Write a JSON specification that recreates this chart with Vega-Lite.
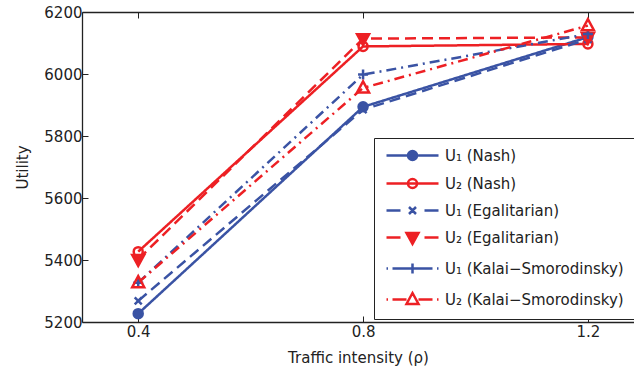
{
  "$schema": "https://vega.github.io/schema/vega-lite/v6.json",
  "autosize": {"type": "none"},
  "padding": {"left": 82, "top": 12, "right": 0, "bottom": 51},
  "width": 552,
  "height": 310,
  "background": "white",
  "config": {
    "font": "DejaVu Sans",
    "view": {"stroke": null},
    "axis": {
      "domainColor": "#222",
      "domainWidth": 1.3,
      "tickColor": "#222",
      "tickWidth": 1,
      "tickSize": -6,
      "grid": false,
      "labelFont": "DejaVu Sans",
      "labelFontSize": 15,
      "labelColor": "#222",
      "titleFont": "DejaVu Sans",
      "titleFontSize": 15,
      "titleFontWeight": "normal",
      "titleColor": "#222"
    }
  },
  "data": {
    "values": [
      {"x": 0.4, "y": 5227, "series": "U₁ (Nash)"},
      {"x": 0.8, "y": 5894, "series": "U₁ (Nash)"},
      {"x": 1.2, "y": 6119, "series": "U₁ (Nash)"},
      {"x": 0.4, "y": 5427, "series": "U₂ (Nash)"},
      {"x": 0.8, "y": 6089, "series": "U₂ (Nash)"},
      {"x": 1.2, "y": 6097, "series": "U₂ (Nash)"},
      {"x": 0.4, "y": 5268, "series": "U₁ (Egalitarian)"},
      {"x": 0.8, "y": 5885, "series": "U₁ (Egalitarian)"},
      {"x": 1.2, "y": 6112, "series": "U₁ (Egalitarian)"},
      {"x": 0.4, "y": 5402, "series": "U₂ (Egalitarian)"},
      {"x": 0.8, "y": 6114, "series": "U₂ (Egalitarian)"},
      {"x": 1.2, "y": 6118, "series": "U₂ (Egalitarian)"},
      {"x": 0.4, "y": 5327, "series": "U₁ (Kalai−Smorodinsky)"},
      {"x": 0.8, "y": 5998, "series": "U₁ (Kalai−Smorodinsky)"},
      {"x": 1.2, "y": 6129, "series": "U₁ (Kalai−Smorodinsky)"},
      {"x": 0.4, "y": 5327, "series": "U₂ (Kalai−Smorodinsky)"},
      {"x": 0.8, "y": 5955, "series": "U₂ (Kalai−Smorodinsky)"},
      {"x": 1.2, "y": 6156, "series": "U₂ (Kalai−Smorodinsky)"}
    ]
  },
  "resolve": {
    "axis": {"x": "independent"},
    "scale": {"shape": "independent", "color": "independent", "fill": "independent"}
  },
  "layer": [
    {
      "mark": {"type": "line", "strokeWidth": 2.5, "clip": true},
      "encoding": {
        "x": {
          "field": "x", "type": "quantitative",
          "scale": {"domain": [0.3, 1.282], "nice": false, "zero": false},
          "axis": {"values": [0.4, 0.8, 1.2], "format": ".1f", "labelPadding": 8, "title": "Traffic intensity (ρ)", "titlePadding": 11}
        },
        "y": {
          "field": "y", "type": "quantitative",
          "scale": {"domain": [5200, 6200], "nice": false, "zero": false},
          "axis": {"values": [5200, 5400, 5600, 5800, 6000, 6200], "format": "d", "labelPadding": 6, "title": "Utility", "titlePadding": 13}
        },
        "color": {
          "field": "series", "type": "nominal",
          "scale": {
            "domain": ["U₁ (Nash)", "U₂ (Nash)", "U₁ (Egalitarian)", "U₂ (Egalitarian)", "U₁ (Kalai−Smorodinsky)", "U₂ (Kalai−Smorodinsky)"],
            "range": ["#3a53a4", "#ed2024", "#3a53a4", "#ed2024", "#3a53a4", "#ed2024"]
          },
          "legend": null
        },
        "strokeDash": {
          "field": "series", "type": "nominal",
          "scale": {
            "domain": ["U₁ (Nash)", "U₂ (Nash)", "U₁ (Egalitarian)", "U₂ (Egalitarian)", "U₁ (Kalai−Smorodinsky)", "U₂ (Kalai−Smorodinsky)"],
            "range": [[1, 0], [1, 0], [11, 6], [11, 6], [10, 5, 2, 5], [10, 5, 2, 5]]
          },
          "legend": null
        }
      }
    },
    {
      "mark": {"type": "point", "strokeWidth": 2.5, "size": 100, "opacity": 1, "fillOpacity": 1, "clip": true},
      "encoding": {
        "x": {
          "field": "x", "type": "quantitative",
          "axis": {"orient": "top", "values": [0.4, 0.8, 1.2], "labels": false, "title": null}
        },
        "y": {"field": "y", "type": "quantitative"},
        "color": {
          "field": "series", "type": "nominal",
          "scale": {
            "domain": ["U₁ (Nash)", "U₂ (Nash)", "U₁ (Egalitarian)", "U₂ (Egalitarian)", "U₁ (Kalai−Smorodinsky)", "U₂ (Kalai−Smorodinsky)"],
            "range": ["#3a53a4", "#ed2024", "#3a53a4", "#ed2024", "#3a53a4", "#ed2024"]
          },
          "legend": null
        },
        "fill": {
          "field": "series", "type": "nominal",
          "scale": {
            "domain": ["U₁ (Nash)", "U₂ (Nash)", "U₁ (Egalitarian)", "U₂ (Egalitarian)", "U₁ (Kalai−Smorodinsky)", "U₂ (Kalai−Smorodinsky)"],
            "range": ["#3a53a4", "transparent", "transparent", "#ed2024", "transparent", "transparent"]
          },
          "legend": null
        },
        "shape": {
          "field": "series", "type": "nominal",
          "scale": {
            "domain": ["U₁ (Nash)", "U₂ (Nash)", "U₁ (Egalitarian)", "U₂ (Egalitarian)", "U₁ (Kalai−Smorodinsky)", "U₂ (Kalai−Smorodinsky)"],
            "range": [
              "M0.9,0A0.9,0.9,0,1,1,-0.9,0A0.9,0.9,0,1,1,0.9,0Z",
              "M0.9,0A0.9,0.9,0,1,1,-0.9,0A0.9,0.9,0,1,1,0.9,0Z",
              "M-0.7,-0.7L0.7,0.7M-0.7,0.7L0.7,-0.7",
              "M-1.2,-0.9L1.2,-0.9L0,1.3Z",
              "M-1,0H1M0,-1V1",
              "M-1.2,0.9L1.2,0.9L0,-1.3Z"
            ]
          },
          "legend": null
        }
      }
    },
    {
      "transform": [{"filter": "false"}],
      "mark": {"type": "point", "strokeWidth": 2.5, "size": 100, "opacity": 1, "fillOpacity": 1},
      "encoding": {
        "x": {"field": "x", "type": "quantitative", "axis": null},
        "y": {"field": "y", "type": "quantitative"},
        "color": {
          "field": "series", "type": "nominal",
          "scale": {
            "domain": ["U₁ (Nash)", "U₂ (Nash)", "U₁ (Egalitarian)", "U₂ (Egalitarian)", "U₁ (Kalai−Smorodinsky)", "U₂ (Kalai−Smorodinsky)"],
            "range": ["#3a53a4", "#ed2024", "#3a53a4", "#ed2024", "#3a53a4", "#ed2024"]
          },
          "legend": {
            "orient": "none",
            "legendX": 292,
            "legendY": 126,
            "title": null,
            "padding": 10,
            "strokeColor": "#222",
            "fillColor": "white",
            "symbolSize": 100,
            "symbolStrokeWidth": 2.5,
            "symbolOpacity": 1,
            "symbolOffset": 21,
            "labelOffset": 25,
            "labelLimit": 400,
            "labelFont": "DejaVu Sans",
            "labelFontSize": 15,
            "labelColor": "#222",
            "rowPadding": 9
          }
        },
        "fill": {
          "field": "series", "type": "nominal",
          "scale": {
            "domain": ["U₁ (Nash)", "U₂ (Nash)", "U₁ (Egalitarian)", "U₂ (Egalitarian)", "U₁ (Kalai−Smorodinsky)", "U₂ (Kalai−Smorodinsky)"],
            "range": ["#3a53a4", "transparent", "transparent", "#ed2024", "transparent", "transparent"]
          },
          "legend": {
            "orient": "none",
            "legendX": 292,
            "legendY": 126,
            "title": null,
            "padding": 10,
            "strokeColor": "#222",
            "fillColor": "white",
            "symbolSize": 100,
            "symbolStrokeWidth": 2.5,
            "symbolOpacity": 1,
            "symbolOffset": 21,
            "labelOffset": 25,
            "labelLimit": 400,
            "labelFont": "DejaVu Sans",
            "labelFontSize": 15,
            "labelColor": "#222",
            "rowPadding": 9
          }
        },
        "shape": {
          "field": "series", "type": "nominal",
          "scale": {
            "domain": ["U₁ (Nash)", "U₂ (Nash)", "U₁ (Egalitarian)", "U₂ (Egalitarian)", "U₁ (Kalai−Smorodinsky)", "U₂ (Kalai−Smorodinsky)"],
            "range": [
              "M-5.2,0H5.2M0.9,0A0.9,0.9,0,1,1,-0.9,0A0.9,0.9,0,1,1,0.9,0Z",
              "M-5.2,0H5.2M0.9,0A0.9,0.9,0,1,1,-0.9,0A0.9,0.9,0,1,1,0.9,0Z",
              "M-5.2,0H-2.4M2.4,0H5.2M-0.7,-0.7L0.7,0.7M-0.7,0.7L0.7,-0.7",
              "M-5.2,0H-2.4M2.4,0H5.2M-1.2,-0.9L1.2,-0.9L0,1.3Z",
              "M-5.2,0H-4.9M-4,0H-1M1,0H4M4.9,0H5.2M-1,0H1M0,-1V1",
              "M-5.2,0H-4.9M-4,0H-1.2M1.2,0H4M4.9,0H5.2M-1.2,0.9L1.2,0.9L0,-1.3Z"
            ]
          },
          "legend": {
            "orient": "none",
            "legendX": 292,
            "legendY": 126,
            "title": null,
            "padding": 10,
            "strokeColor": "#222",
            "fillColor": "white",
            "symbolSize": 100,
            "symbolStrokeWidth": 2.5,
            "symbolOpacity": 1,
            "symbolOffset": 21,
            "labelOffset": 25,
            "labelLimit": 400,
            "labelFont": "DejaVu Sans",
            "labelFontSize": 15,
            "labelColor": "#222",
            "rowPadding": 9
          }
        }
      }
    }
  ]
}
